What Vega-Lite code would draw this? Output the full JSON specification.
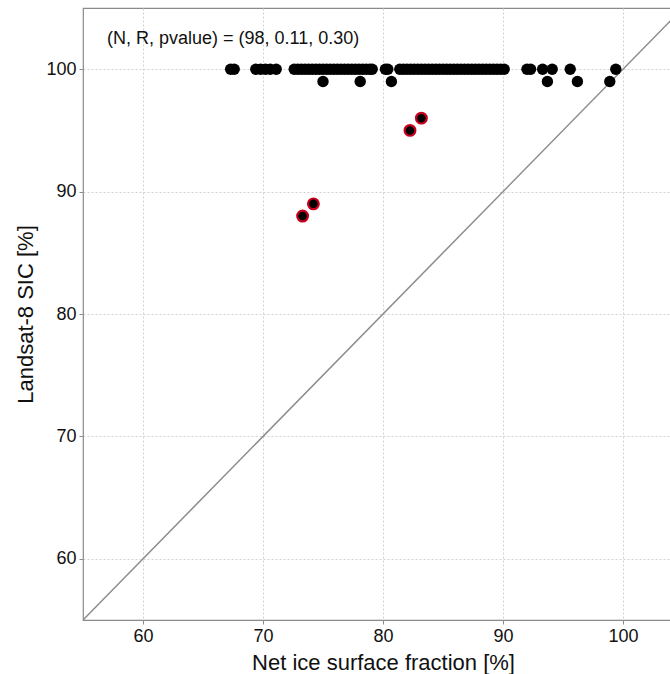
{
  "$schema": "https://vega.github.io/schema/vega-lite/v6.json",
  "width": 600,
  "height": 612,
  "autosize": {"type": "none"},
  "padding": {"left": 83, "top": 8, "right": 0, "bottom": 54},
  "background": "white",
  "config": {
    "font": "Liberation Sans",
    "view": {"stroke": "#8a8a8a", "strokeWidth": 1.2},
    "axis": {
      "domain": false,
      "grid": true,
      "gridColor": "#d2d2d2",
      "gridDash": [2, 2],
      "gridWidth": 1,
      "tickColor": "#8a8a8a",
      "tickSize": 4,
      "labelFontSize": 18,
      "labelColor": "#111",
      "labelPadding": 3,
      "titleFontSize": 22,
      "titleFontWeight": "normal",
      "titleColor": "#111"
    }
  },
  "datasets": {
    "pts": [
      {"net": 67.3, "sic": 100, "group": "main"},
      {"net": 67.6, "sic": 100, "group": "main"},
      {"net": 69.4, "sic": 100, "group": "main"},
      {"net": 69.8, "sic": 100, "group": "main"},
      {"net": 70.2, "sic": 100, "group": "main"},
      {"net": 70.6, "sic": 100, "group": "main"},
      {"net": 71.1, "sic": 100, "group": "main"},
      {"net": 72.6, "sic": 100, "group": "main"},
      {"net": 72.9, "sic": 100, "group": "main"},
      {"net": 73.2, "sic": 100, "group": "main"},
      {"net": 73.5, "sic": 100, "group": "main"},
      {"net": 73.8, "sic": 100, "group": "main"},
      {"net": 74.1, "sic": 100, "group": "main"},
      {"net": 74.4, "sic": 100, "group": "main"},
      {"net": 74.7, "sic": 100, "group": "main"},
      {"net": 75.0, "sic": 100, "group": "main"},
      {"net": 75.3, "sic": 100, "group": "main"},
      {"net": 75.6, "sic": 100, "group": "main"},
      {"net": 75.9, "sic": 100, "group": "main"},
      {"net": 76.2, "sic": 100, "group": "main"},
      {"net": 76.5, "sic": 100, "group": "main"},
      {"net": 76.8, "sic": 100, "group": "main"},
      {"net": 77.1, "sic": 100, "group": "main"},
      {"net": 77.4, "sic": 100, "group": "main"},
      {"net": 77.7, "sic": 100, "group": "main"},
      {"net": 78.0, "sic": 100, "group": "main"},
      {"net": 78.3, "sic": 100, "group": "main"},
      {"net": 78.6, "sic": 100, "group": "main"},
      {"net": 78.9, "sic": 100, "group": "main"},
      {"net": 79.1, "sic": 100, "group": "main"},
      {"net": 80.2, "sic": 100, "group": "main"},
      {"net": 80.4, "sic": 100, "group": "main"},
      {"net": 81.4, "sic": 100, "group": "main"},
      {"net": 81.7, "sic": 100, "group": "main"},
      {"net": 82.0, "sic": 100, "group": "main"},
      {"net": 82.3, "sic": 100, "group": "main"},
      {"net": 82.6, "sic": 100, "group": "main"},
      {"net": 82.9, "sic": 100, "group": "main"},
      {"net": 83.2, "sic": 100, "group": "main"},
      {"net": 83.5, "sic": 100, "group": "main"},
      {"net": 83.8, "sic": 100, "group": "main"},
      {"net": 84.1, "sic": 100, "group": "main"},
      {"net": 84.4, "sic": 100, "group": "main"},
      {"net": 84.7, "sic": 100, "group": "main"},
      {"net": 85.0, "sic": 100, "group": "main"},
      {"net": 85.3, "sic": 100, "group": "main"},
      {"net": 85.6, "sic": 100, "group": "main"},
      {"net": 85.9, "sic": 100, "group": "main"},
      {"net": 86.2, "sic": 100, "group": "main"},
      {"net": 86.5, "sic": 100, "group": "main"},
      {"net": 86.8, "sic": 100, "group": "main"},
      {"net": 87.1, "sic": 100, "group": "main"},
      {"net": 87.4, "sic": 100, "group": "main"},
      {"net": 87.7, "sic": 100, "group": "main"},
      {"net": 88.0, "sic": 100, "group": "main"},
      {"net": 88.3, "sic": 100, "group": "main"},
      {"net": 88.6, "sic": 100, "group": "main"},
      {"net": 88.9, "sic": 100, "group": "main"},
      {"net": 89.2, "sic": 100, "group": "main"},
      {"net": 89.5, "sic": 100, "group": "main"},
      {"net": 89.8, "sic": 100, "group": "main"},
      {"net": 90.1, "sic": 100, "group": "main"},
      {"net": 92.0, "sic": 100, "group": "main"},
      {"net": 92.3, "sic": 100, "group": "main"},
      {"net": 93.3, "sic": 100, "group": "main"},
      {"net": 94.1, "sic": 100, "group": "main"},
      {"net": 95.6, "sic": 100, "group": "main"},
      {"net": 99.4, "sic": 100, "group": "main"},
      {"net": 75.0, "sic": 99, "group": "main"},
      {"net": 78.1, "sic": 99, "group": "main"},
      {"net": 80.7, "sic": 99, "group": "main"},
      {"net": 93.7, "sic": 99, "group": "main"},
      {"net": 96.2, "sic": 99, "group": "main"},
      {"net": 98.9, "sic": 99, "group": "main"},
      {"net": 73.3, "sic": 88, "group": "outlier"},
      {"net": 74.2, "sic": 89, "group": "outlier"},
      {"net": 82.25, "sic": 95, "group": "outlier"},
      {"net": 83.2, "sic": 96, "group": "outlier"}
    ]
  },
  "layer": [
    {
      "data": {"values": [{"net": 55, "sic": 55}, {"net": 105, "sic": 105}]},
      "mark": {"type": "line", "color": "#8c8c8c", "strokeWidth": 1.5, "clip": true},
      "encoding": {
        "x": {"field": "net", "type": "quantitative", "scale": {"domain": [55, 105], "nice": false, "zero": false},
              "axis": {"values": [60, 70, 80, 90, 100], "title": "Net ice surface fraction [%]", "titlePadding": 7}},
        "y": {"field": "sic", "type": "quantitative", "scale": {"domain": [55, 105], "nice": false, "zero": false},
              "axis": {"values": [60, 70, 80, 90, 100], "title": "Landsat-8 SIC [%]", "titlePadding": 8}}
      }
    },
    {
      "data": {"name": "pts"},
      "transform": [{"filter": "datum.group === 'main'"}],
      "mark": {"type": "circle", "size": 130, "fill": "black", "opacity": 1, "strokeWidth": 0},
      "encoding": {
        "x": {"field": "net", "type": "quantitative"},
        "y": {"field": "sic", "type": "quantitative"}
      }
    },
    {
      "data": {"name": "pts"},
      "transform": [{"filter": "datum.group === 'outlier'"}],
      "mark": {"type": "circle", "size": 115, "fill": "black", "opacity": 1, "stroke": "#c8001e", "strokeWidth": 2.2},
      "encoding": {
        "x": {"field": "net", "type": "quantitative"},
        "y": {"field": "sic", "type": "quantitative"}
      }
    },
    {
      "data": {"values": [{"label": "(N, R, pvalue) = (98, 0.11, 0.30)"}]},
      "mark": {"type": "text", "align": "left", "baseline": "middle", "fontSize": 18, "color": "#111"},
      "encoding": {
        "x": {"datum": 57.0, "type": "quantitative"},
        "y": {"datum": 102.45, "type": "quantitative"},
        "text": {"field": "label"}
      }
    }
  ]
}
